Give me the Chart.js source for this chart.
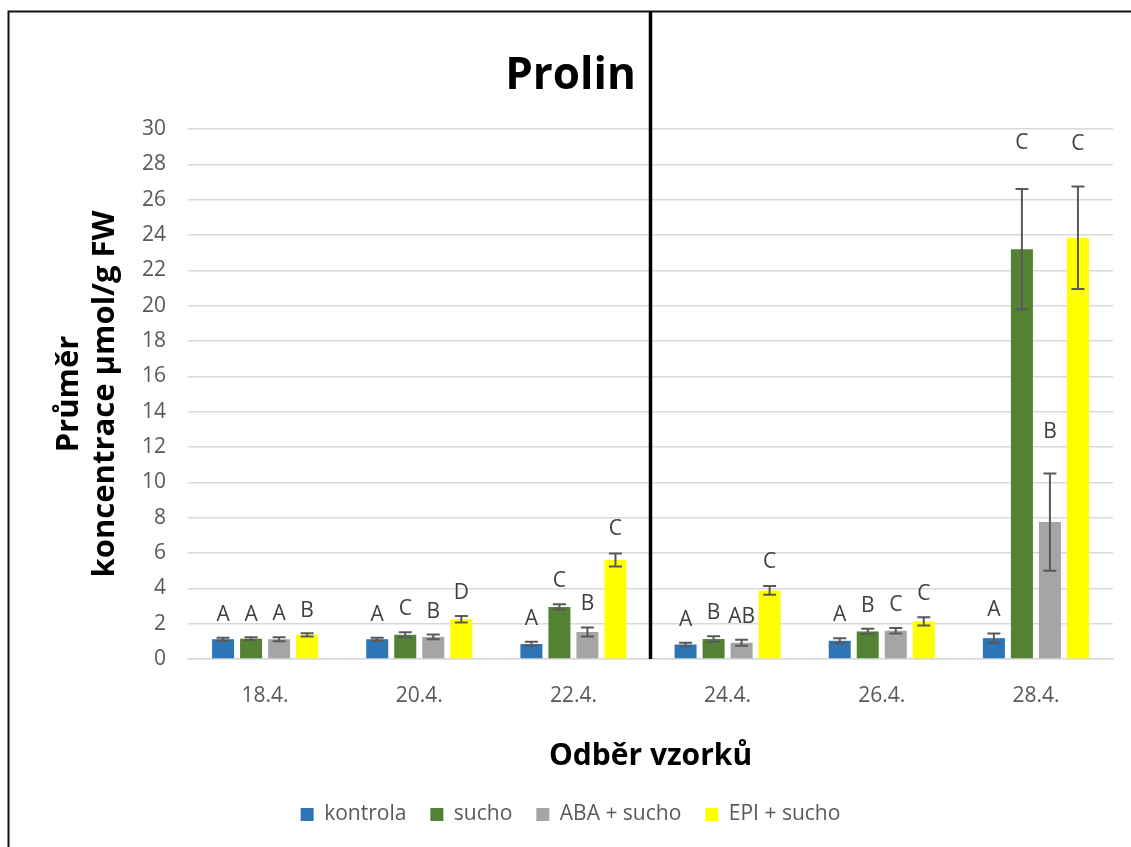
<!DOCTYPE html>
<html>
<head>
<meta charset="utf-8">
<script src="https://cdn.jsdelivr.net/npm/chart.js@4"></script>
<style>
  html, body { margin: 0; padding: 0; background: #fff; }
  #wrap { width: 1131px; height: 847px; }
</style>
</head>
<body>
<div id="wrap"><canvas id="chart" width="1131" height="847"></canvas></div>
<script>
    // data
    const dates = ['18.4.', '20.4.', '22.4.', '24.4.', '26.4.', '28.4.'];
    const seriesNames = ['kontrola', 'sucho', 'ABA + sucho', 'EPI + sucho'];

    const kontrola = [1.12, 1.12, 0.85, 0.82, 1.03, 1.18];
    const sucho = [1.15, 1.37, 2.95, 1.13, 1.56, 23.2];
    const abaSucho = [1.12, 1.25, 1.53, 0.92, 1.60, 7.75];
    const epiSucho = [1.37, 2.25, 5.60, 3.88, 2.13, 23.85];

    const kontrolaErr = [0.08, 0.08, 0.12, 0.10, 0.14, 0.26];
    const suchoErr = [0.08, 0.14, 0.15, 0.16, 0.15, 3.40];
    const abaSuchoErr = [0.11, 0.13, 0.26, 0.17, 0.15, 2.75];
    const epiSuchoErr = [0.09, 0.18, 0.37, 0.25, 0.23, 2.90];

    const kontrolaLetters = ['A', 'A', 'A', 'A', 'A', 'A'];
    const suchoLetters = ['A', 'C', 'C', 'B', 'B', 'C'];
    const abaSuchoLetters = ['A', 'B', 'B', 'AB', 'C', 'B'];
    const epiSuchoLetters = ['B', 'D', 'C', 'C', 'C', 'C'];

    const yTicks = [0, 2, 4, 6, 8, 10, 12, 14, 16, 18, 20, 22, 24, 26, 28, 30];

    const colors = ['#2e75b6', '#548235', '#a5a5a5', '#ffff00'];
    const FONT = "'Open Sans', 'Noto Sans', sans-serif";
    const PLOT_BOTTOM = 659; // where the zero line sits
    const PAD_BOTTOM = 12;
    const SPLIT_AFTER = 3;   // black divider between 22.4. and 24.4.

    function makeDataset(i, values, errors, letters) {
        return {
            label: seriesNames[i],
            data: values,
            errors: errors,
            letters: letters,
            backgroundColor: colors[i],
            borderWidth: 0,
            categoryPercentage: 0.727,
            barPercentage: 0.786
        };
    }

    // frame, divider, error bars and letters
    const extrasPlugin = {
        id: 'extras',
        afterDatasetsDraw(chart) {
            const ctx = chart.ctx;
            const y = chart.scales.y;
            const x = chart.scales.x;
            ctx.save();

            // error bars
            chart.data.datasets.forEach((ds, di) => {
                const meta = chart.getDatasetMeta(di);
                meta.data.forEach((bar, i) => {
                    const v = ds.data[i];
                    const e = ds.errors[i];
                    const top = y.getPixelForValue(v + e);
                    const bot = y.getPixelForValue(v - e);
                    ctx.strokeStyle = '#595959';
                    ctx.lineWidth = 2;
                    ctx.beginPath();
                    ctx.moveTo(bar.x, top);
                    ctx.lineTo(bar.x, bot);
                    ctx.moveTo(bar.x - 6.5, top);
                    ctx.lineTo(bar.x + 6.5, top);
                    ctx.moveTo(bar.x - 6.5, bot);
                    ctx.lineTo(bar.x + 6.5, bot);
                    ctx.stroke();

                    // significance letter above the whisker
                    const errPx = bot - top;
                    ctx.fillStyle = '#404040';
                    ctx.font = '21px ' + FONT;
                    ctx.textAlign = 'center';
                    ctx.textBaseline = 'middle';
                    ctx.fillText(ds.letters[i], bar.x, top - 22 - errPx * 0.2);
                });
            });

            // vertical divider
            const sx = (x.getPixelForValue(SPLIT_AFTER - 1) + x.getPixelForValue(SPLIT_AFTER)) / 2;
            ctx.strokeStyle = '#000';
            ctx.lineWidth = 3.5;
            ctx.beginPath();
            ctx.moveTo(sx, 11);
            ctx.lineTo(sx, chart.chartArea.bottom);
            ctx.stroke();

            // outer frame (left and top edges visible)
            ctx.strokeStyle = '#111';
            ctx.lineWidth = 2;
            ctx.strokeRect(8.5, 11.5, 2000, 2000);
            ctx.restore();
        }
    };

    const ctx = document.getElementById('chart').getContext('2d');
    new Chart(ctx, {
        type: 'bar',
        data: {
            labels: dates,
            datasets: [
                makeDataset(0, kontrola, kontrolaErr, kontrolaLetters),
                makeDataset(1, sucho, suchoErr, suchoLetters),
                makeDataset(2, abaSucho, abaSuchoErr, abaSuchoLetters),
                makeDataset(3, epiSucho, epiSuchoErr, epiSuchoLetters)
            ]
        },
        options: {
            responsive: false,
            animation: false,
            layout: { padding: { left: 28, right: 18, top: 0, bottom: PAD_BOTTOM } },
            plugins: {
                title: {
                    display: true,
                    text: 'Prolin',
                    color: '#000',
                    font: { family: FONT, size: 44, weight: 'bold', lineHeight: 1.2 },
                    padding: { top: 50, bottom: 26.2 }
                },
                legend: {
                    display: true,
                    position: 'bottom',
                    labels: {
                        color: '#595959',
                        font: { family: FONT, size: 21 },
                        boxWidth: 13,
                        boxHeight: 13,
                        padding: 24
                    }
                },
                tooltip: { enabled: false }
            },
            scales: {
                x: {
                    grid: { display: false, drawTicks: false },
                    border: { display: true, color: '#d9d9d9', width: 1.5 },
                    ticks: { color: '#595959', font: { family: FONT, size: 21 }, padding: 24 },
                    title: {
                        display: true,
                        text: 'Odběr vzorků',
                        color: '#000',
                        font: { family: FONT, size: 30, weight: 'bold', lineHeight: 1.2 },
                        padding: { top: 0, bottom: 6 }
                    },
                    afterFit(scale) {
                        scale.height = scale.chart.height - PLOT_BOTTOM - scale.chart.legend.height - PAD_BOTTOM;
                    }
                },
                y: {
                    min: 0,
                    max: 30,
                    afterBuildTicks(scale) {
                        scale.ticks = yTicks.map(v => ({ value: v }));
                    },
                    grid: { color: '#d9d9d9', lineWidth: 1.5, drawTicks: false },
                    border: { display: false },
                    ticks: { color: '#595959', font: { family: FONT, size: 21 }, padding: 22 },
                    title: {
                        display: true,
                        text: ['Průměr', 'koncentrace µmol/g FW'],
                        color: '#000',
                        font: { family: FONT, size: 31, weight: 'bold', lineHeight: 1.16 },
                        padding: { top: 23, bottom: 0 }
                    },
                    afterFit(scale) {
                        scale.width = 160;
                    }
                }
            }
        },
        plugins: [extrasPlugin]
    });
</script>
</body>
</html>
